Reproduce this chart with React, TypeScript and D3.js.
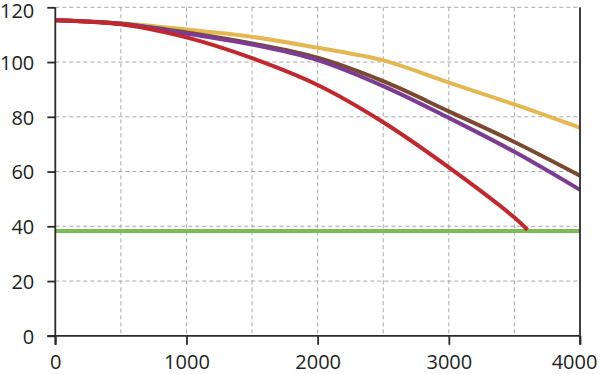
import * as d3 from 'd3';
import React, { useEffect, useRef } from 'react';

const speeds = [0, 500, 1000, 1500, 2000, 2500, 3000, 3500, 4000];
const yellowVals = [115.3, 114.2, 111.9, 109.2, 105.2, 100.6, 92.5, 84.5, 76];
const brownVals = [115.3, 114, 110.8, 106.8, 101.6, 93, 82, 70.8, 58.5];
const purpleVals = [115.3, 114, 110.4, 106.4, 100.7, 91.2, 79.6, 67.2, 53.3];
const redSpeeds = [0, 500, 1000, 1500, 2000, 2500, 3000, 3500, 3600];
const redVals = [115.3, 113.8, 109, 101.4, 91.6, 78, 61.5, 43.2, 38.7];
const limitSpeeds = [0, 4000];
const limitVals = [38.3, 38.3];

const xTicks = [0, 1000, 2000, 3000, 4000];
const yTicks = [0, 20, 40, 60, 80, 100, 120];
const xGrid = [500, 1000, 1500, 2000, 2500, 3000, 3500];

const App: React.FC = () => {
  const ref = useRef<SVGSVGElement>(null);

  useEffect(() => {
    if (!ref.current) return;
    const width = 600;
    const height = 374;

    const svg = d3.select(ref.current);
    svg.selectAll('*').remove();
    svg.attr('width', width).attr('height', height);

    const x = d3.scaleLinear().domain([0, 4000]).range([55.3, 580]);
    const y = d3.scaleLinear().domain([0, 120]).range([335.8, 7.3]);

    const grid = svg.append('g')
      .attr('stroke', '#a8a8a8')
      .attr('stroke-width', 1)
      .attr('stroke-dasharray', '4,3');

    grid.selectAll('.gy')
      .data(yTicks.filter(d => d > 0))
      .enter()
      .append('line')
      .attr('x1', x(0))
      .attr('x2', x(4000))
      .attr('y1', d => y(d))
      .attr('y2', d => y(d));

    grid.selectAll('.gx')
      .data(xGrid)
      .enter()
      .append('line')
      .attr('x1', d => x(d))
      .attr('x2', d => x(d))
      .attr('y1', y(120))
      .attr('y2', y(0));

    const series = [
      { xs: limitSpeeds, ys: limitVals, color: '#7dbb55' },
      { xs: speeds, ys: yellowVals, color: '#e3b852' },
      { xs: speeds, ys: brownVals, color: '#7a4a30' },
      { xs: speeds, ys: purpleVals, color: '#7b3c93' },
      { xs: redSpeeds, ys: redVals, color: '#c1272d' },
    ];

    const line = d3.line<[number, number]>()
      .x(d => x(d[0]))
      .y(d => y(d[1]))
      .curve(d3.curveCatmullRom.alpha(0.5));

    series.forEach(s => {
      svg.append('path')
        .datum(s.xs.map((v, i) => [v, s.ys[i]] as [number, number]))
        .attr('d', line)
        .attr('fill', 'none')
        .attr('stroke', s.color)
        .attr('stroke-width', 4)
        .attr('stroke-linecap', 'butt');
    });

    const axisColor = '#2b2b2b';

    const yAxis = svg.append('g')
      .attr('transform', `translate(${x(0)},0)`)
      .call(d3.axisLeft(y).tickValues(yTicks).tickSize(8).tickPadding(13).tickFormat(d3.format('d')));

    const xAxis = svg.append('g')
      .attr('transform', `translate(0,${y(0)})`)
      .call(d3.axisBottom(x).tickValues(xTicks).tickSize(9).tickPadding(10).tickFormat(d3.format('d')));

    [yAxis, xAxis].forEach(a => {
      a.select('.domain').remove();
      a.selectAll('line').attr('stroke', axisColor).attr('stroke-width', 1.8);
      a.selectAll('text')
        .attr('fill', '#222')
        .style('font-family', '"Open Sans", sans-serif')
        .style('font-size', '20px');
    });

    // top label sits a little lower so it is not clipped
    yAxis.selectAll<SVGTextElement, number>('text')
      .attr('y', d => (d === 120 ? 3.5 : 1));
    // last x label nudged in from the right edge
    xAxis.selectAll<SVGTextElement, number>('text')
      .attr('x', d => (d === 4000 ? -6 : 0));

    // axis lines
    svg.append('line')
      .attr('x1', x(0)).attr('x2', x(0))
      .attr('y1', y(120)).attr('y2', y(0) + 9)
      .attr('stroke', axisColor).attr('stroke-width', 1.8);
    svg.append('line')
      .attr('x1', x(0) - 8).attr('x2', x(4000))
      .attr('y1', y(0)).attr('y2', y(0))
      .attr('stroke', axisColor).attr('stroke-width', 1.8);
    svg.append('line')
      .attr('x1', x(4000)).attr('x2', x(4000))
      .attr('y1', y(120)).attr('y2', y(0) + 9)
      .attr('stroke', axisColor).attr('stroke-width', 1.8);
  }, []);

  return <svg ref={ref} style={{ position: 'absolute', left: 0, top: 0 }} />;
};

export default App;
